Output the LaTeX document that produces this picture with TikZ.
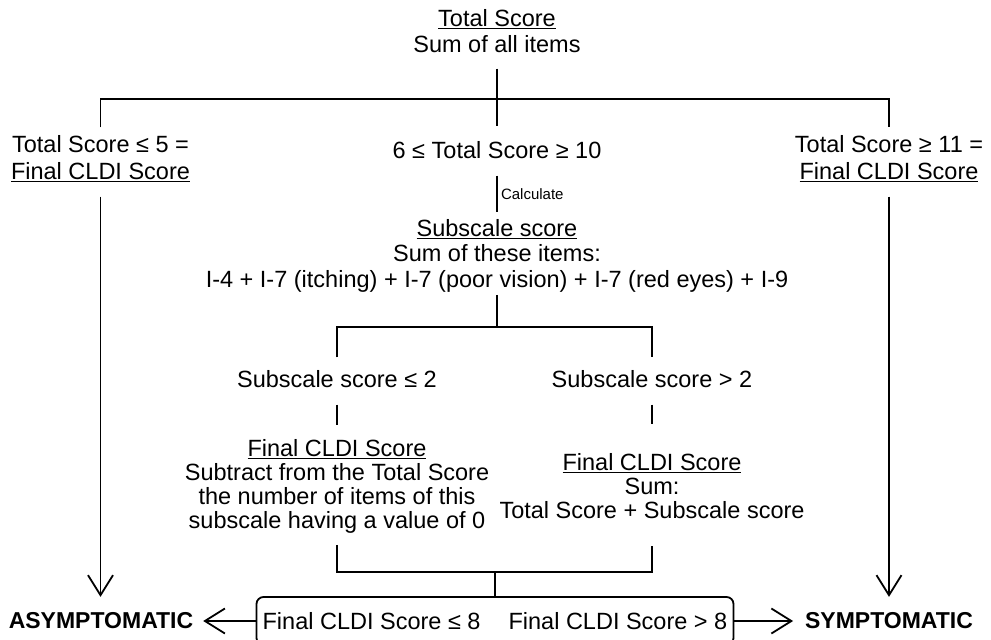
\documentclass[tikz,border=0pt]{standalone}
\usepackage{fontspec}
\setmainfont{Liberation Sans}
\usetikzlibrary{arrows.meta}
\begin{document}
\begin{tikzpicture}[x=1pt,y=-1pt,
  every node/.style={inner sep=0pt, outer sep=0pt},
  txt/.style={font=\fontsize{23.5}{26}\selectfont, align=center},
  lbl/.style={font=\fontsize{15}{18}\selectfont},
  res/.style={font=\fontsize{23}{26}\selectfont\bfseries},
  conn/.style={line width=1.8pt},
  arr/.style={conn, -{Straight Barb[length=20pt,width=25pt]}},
  ]
\useasboundingbox (0,0) rectangle (991,640);
\fill[white] (0,0) rectangle (991,640);

% text nodes
\node[txt] (tot) at (497,31) {\underline{Total Score}\\Sum of all items};
\node[txt] (mid) at (497,150) {6 ≤ Total Score ≥ 10};
\node[txt, font=\fontsize{23.5}{27}\selectfont] (lt) at (100.5,158.5) {Total Score ≤ 5 =\\\underline{Final CLDI Score}};
\node[txt, font=\fontsize{23.5}{27}\selectfont] (rt) at (889,158.5) {Total Score ≥ 11 =\\\underline{Final CLDI Score}};
\node[lbl, anchor=west] (calc) at (501,194) {Calculate};
\node[txt, font=\fontsize{23.5}{25.5}\selectfont] (sub) at (497,255.5) {\underline{Subscale score}\\Sum of these items:\\I-4 + I-7 (itching) + I-7 (poor vision) + I-7 (red eyes) + I-9};
\node[txt] (sl) at (337,379) {Subscale score ≤ 2};
\node[txt] (sr) at (652,379) {Subscale score > 2};
\node[txt, font=\fontsize{23.5}{24}\selectfont] (fl) at (337,486) {\underline{Final CLDI Score}\\Subtract from the Total Score\\the number of items of this\\subscale having a value of 0};
\node[txt, font=\fontsize{23.5}{24}\selectfont] (fr) at (652,486) {\underline{Final CLDI Score}\\Sum:\\Total Score + Subscale score};
\node[txt, draw, conn, rounded corners=7pt, minimum width=477pt, minimum height=48pt] (box) at (495,621) {Final CLDI Score ≤ 8\hspace{28pt}Final CLDI Score > 8};
\node[res] (asym) at (101,621) {ASYMPTOMATIC};
\node[res] (symp) at (889,621) {SYMPTOMATIC};

% junctions
\coordinate (j1) at (497,99);
\coordinate (j2) at (497,327);
\coordinate (j3) at (495,572);

% connectors
\draw[conn, shorten <=16pt, shorten >=15pt] (tot.south) -- (mid.north);
\draw[conn, shorten <=8pt, shorten >=8pt] (lt.north) -- (lt.north |- j1) -- (rt.north |- j1) -- (rt.north);
\draw[arr, shorten <=15pt, shorten >=16pt] (lt.south) -- (lt.south |- asym.north);
\draw[arr, shorten <=15pt, shorten >=16pt] (rt.south) -- (symp.north);
\draw[conn, shorten <=17pt, shorten >=7pt] (mid.south) -- (sub.north);
\draw[conn, shorten <=3pt] (sub.south) -- (j2);
\draw[conn, shorten <=13pt, shorten >=13pt] (sl.north) -- (sl.north |- j2) -- (sr.north |- j2) -- (sr.north);
\draw[conn, shorten <=17pt, shorten >=14pt] (sl.south) -- (fl.north);
\draw[conn, shorten <=17pt, shorten >=29pt] (sr.south) -- (fr.north);
\draw[conn, shorten <=12pt, shorten >=27pt] (fl.south) -- (fl.south |- j3) -- (fr.south |- j3) -- (fr.south);
\draw[conn] (j3) -- (box.north);
\draw[arr, shorten >=10pt] (box.west) -- (asym.east);
\draw[arr, shorten >=12pt] (box.east) -- (symp.west);
\end{tikzpicture}
\end{document}
